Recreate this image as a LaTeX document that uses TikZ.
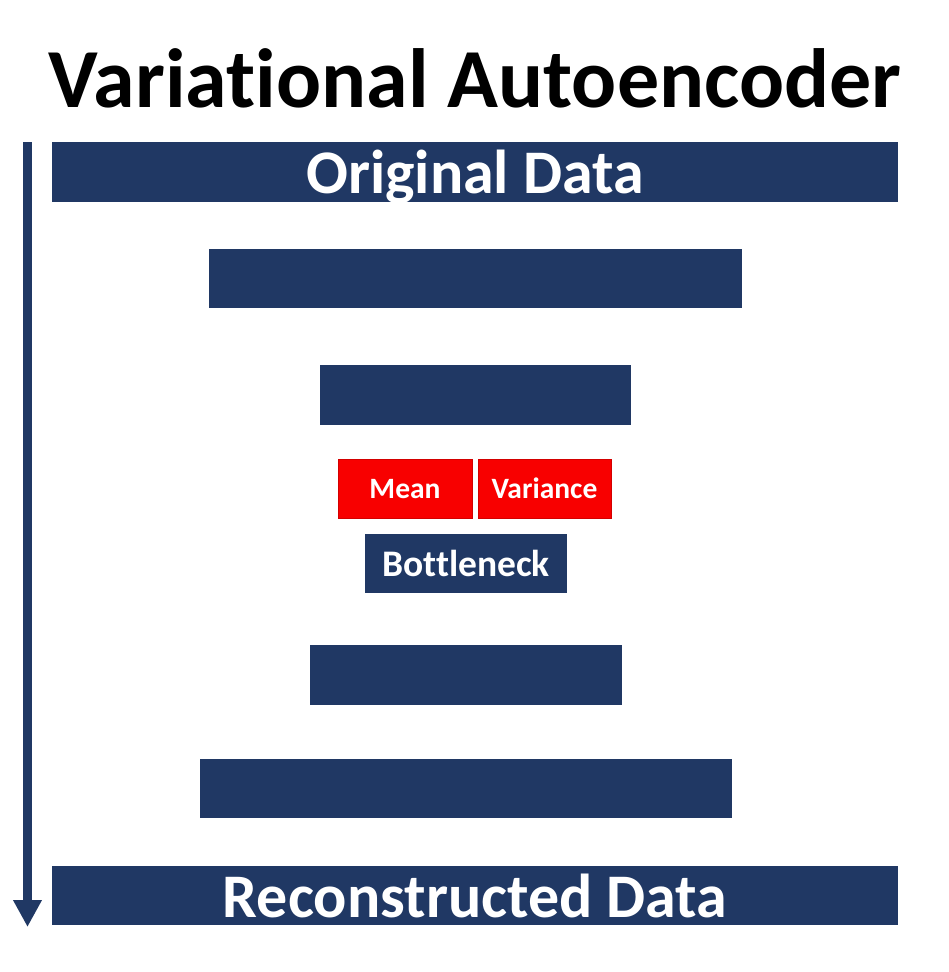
\documentclass[tikz,border=0pt]{standalone}
\usepackage{fontspec}
\setmainfont{Carlito}[Ligatures={NoCommon}]
\usetikzlibrary{arrows.meta}
\definecolor{navy}{HTML}{203864}
\definecolor{vred}{HTML}{F80000}
\begin{document}
\begin{tikzpicture}[x=1pt,y=1pt,
  layer/.style={fill=navy,draw=none,inner sep=0pt,text=white,text depth=0pt,font=\bfseries},
  redbox/.style={fill=vred,draw=vred!85!black,line width=0.8pt,inner sep=0pt,text=white,text depth=0pt,font=\bfseries\fontsize{29.5}{32}\selectfont}]
\useasboundingbox (0,0) rectangle (949,-972);
\node[font=\bfseries\fontsize{84}{92}\selectfont] (title) at (475,-78) {Variational Autoencoder};
\node[layer,minimum width=846pt,minimum height=60pt,font=\bfseries\fontsize{62}{66}\selectfont] (orig) at (475,-172) {Original Data};
\node[layer,minimum width=533pt,minimum height=59pt] (l2) at (475.5,-278.5) {};
\node[layer,minimum width=311pt,minimum height=60pt] (l3) at (475.5,-395) {};
\node[redbox,minimum width=134pt,minimum height=59pt] (mean) at (405,-488.5) {Mean};
\node[redbox,minimum width=133pt,minimum height=59pt] (var) at (544.5,-488.5) {Variance};
\node[layer,minimum width=202pt,minimum height=59pt,font=\bfseries\fontsize{37.5}{40}\selectfont] (bott) at (466,-563.5) {Bottleneck};
\node[layer,minimum width=312pt,minimum height=60pt] (l5) at (466,-675) {};
\node[layer,minimum width=532pt,minimum height=59pt] (l6) at (466,-788.5) {};
\node[layer,minimum width=846pt,minimum height=59pt,font=\bfseries\fontsize{62}{66}\selectfont] (recon) at (475,-895.5) {Reconstructed Data};
\coordinate (astart) at (27.5,-142);
\coordinate (aend) at (27.5,-927);
\draw[navy,line width=9pt,-{Triangle[width=27pt,length=27pt]}] (astart) -- (aend);
\end{tikzpicture}
\end{document}
